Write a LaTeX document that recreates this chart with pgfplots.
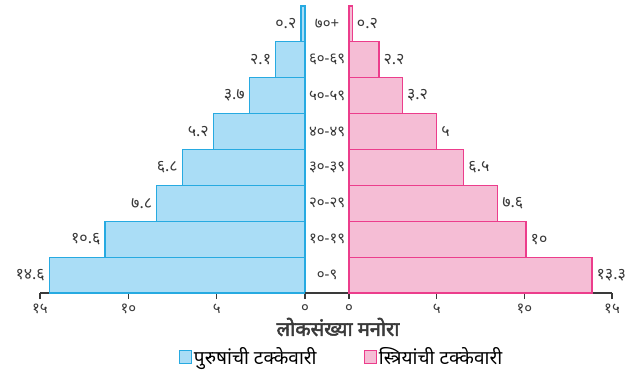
\documentclass[border=0pt]{standalone}
\usepackage{fontspec}
\setmainfont{Noto Sans}[Script=Devanagari]
\newfontfamily\titlefont{Noto Sans}[Script=Devanagari, FakeBold=2.5]
\usepackage{pgfplots}
\usepackage{pgfplotstable}
\pgfplotsset{compat=1.18}
\definecolor{bfill}{HTML}{AADDF6}
\definecolor{bedge}{HTML}{27AAE1}
\definecolor{pfill}{HTML}{F5BDD5}
\definecolor{pedge}{HTML}{EC3D8C}
\definecolor{axgray}{HTML}{3A3A3A}
\pgfplotstableread{
x y lab
14.47 0 १४.६
11.32 1 १०.६
8.39 2 ७.८
6.94 3 ६.८
5.19 4 ५.२
3.15 5 ३.७
1.66 6 २.१
0.23 7 ०.२
}\male
\pgfplotstableread{
x y lab
13.86 0 १३.३
10.10 1 १०
8.48 2 ७.६
6.55 3 ६.५
5.00 4 ५
3.05 5 ३.२
1.71 6 २.२
0.19 7 ०.२
}\female
\pgfplotstableread{
x y lab
-1.25 0 ०-९
-1.25 1 १०-१९
-1.25 2 २०-२९
-1.25 3 ३०-३९
-1.25 4 ४०-४९
-1.25 5 ५०-५९
-1.25 6 ६०-६९
-1.25 7 ७०+
}\ages
\pgfplotsset{
  pyr/.style={
    scale only axis, height=287pt,
    xmin=0, xmax=15, ymin=-0.5, ymax=7.5,
    axis y line=none, axis x line*=bottom,
    x axis line style={-, draw=axgray, line width=1.1pt},
    xtick={0,5,10,15}, xticklabels={०,५,१०,१५},
    tick align=outside, major tick length=6pt,
    every tick/.style={draw=axgray, line width=1.1pt},
    xticklabel style={font=\fontsize{15}{17}\selectfont, text=axgray, inner sep=2pt, yshift=-3pt},
    clip=false,
  }
}
\begin{document}
\begin{tikzpicture}
\useasboundingbox (-40pt,-85pt) rectangle (586pt,293pt);
\begin{axis}[pyr, width=265pt, x dir=reverse, at={(0pt,0pt)}, anchor=south west]
\addplot[xbar, bar width=1, fill=bfill, draw=bedge, line width=1.2pt,
  nodes near coords, point meta=explicit symbolic,
  nodes near coords align={anchor=east},
  every node near coord/.append style={font=\fontsize{16}{18}\selectfont, text=axgray, inner sep=4pt}]
  table[x=x, y=y, meta=lab] {\male};
\end{axis}
\draw[axgray, line width=1.1pt] (265pt,0pt) -- (309pt,0pt);
\begin{axis}[pyr, width=263pt, at={(309pt,0pt)}, anchor=south west,
  legend style={at={(-0.0285,-0.223)}, anchor=center, draw=none, fill=none,
    legend columns=2, font=\fontsize{19}{21}\selectfont,
    /tikz/every even column/.append style={column sep=45pt},
    inner sep=0pt},
  legend cell align=left]
\addlegendimage{legend image code/.code={\draw[fill=bfill, draw=bedge, line width=1.2pt] (0pt,-6.5pt) rectangle (12pt,6.5pt);}}
\addlegendentry{पुरुषांची टक्केवारी}
\addplot[xbar, bar width=1, fill=pfill, draw=pedge, line width=1.2pt,
  nodes near coords, point meta=explicit symbolic,
  nodes near coords align={anchor=west},
  every node near coord/.append style={font=\fontsize{16}{18}\selectfont, text=axgray, inner sep=4pt},
  legend image code/.code={\draw[fill=pfill, draw=pedge, line width=1.2pt] (0pt,-6.5pt) rectangle (12pt,6.5pt);}]
  table[x=x, y=y, meta=lab] {\female};
\addlegendentry{स्त्रियांची टक्केवारी}
\addplot[only marks, mark=none, forget plot,
  nodes near coords, point meta=explicit symbolic,
  nodes near coords align={anchor=center},
  every node near coord/.append style={font=\fontsize{15}{17}\selectfont, text=axgray, inner sep=0pt}]
  table[x=x, y=y, meta=lab] {\ages};
\end{axis}
\node[font=\titlefont\fontsize{20}{22}\selectfont, text=axgray] at (298pt,-34pt) {लोकसंख्या मनोरा};
\end{tikzpicture}
\end{document}
